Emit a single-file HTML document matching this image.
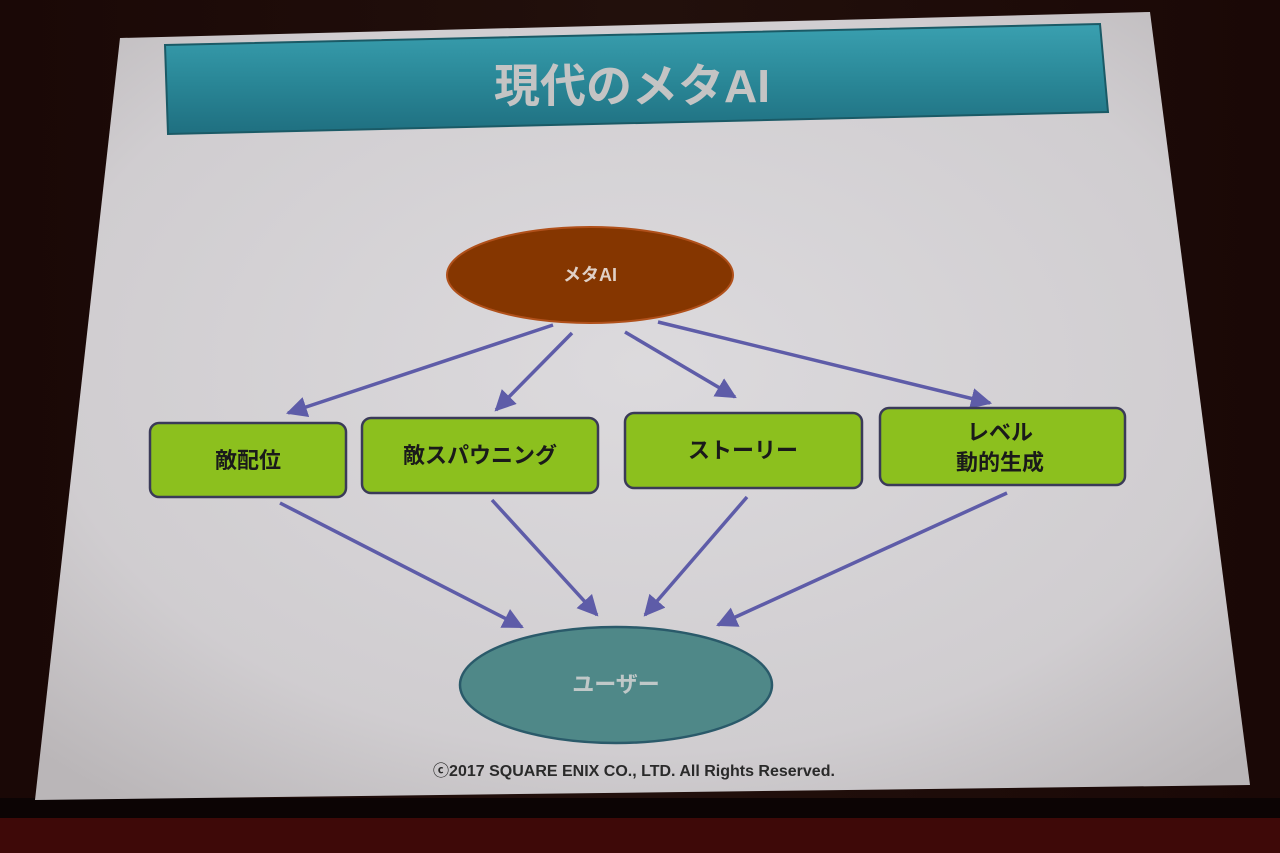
<!DOCTYPE html>
<html><head><meta charset="utf-8"><style>
html,body{margin:0;padding:0;background:#140806;}
svg{display:block}
text{font-family:"Liberation Sans","Noto Sans CJK JP",sans-serif;}
</style></head><body>
<svg width="1280" height="853" viewBox="0 0 1280 853" xmlns="http://www.w3.org/2000/svg">
<defs>
<linearGradient id="bg" x1="0" y1="0" x2="1" y2="0">
<stop offset="0" stop-color="#1a0806"/><stop offset="0.5" stop-color="#22100c"/><stop offset="1" stop-color="#1a0806"/></linearGradient>
<radialGradient id="scr" cx="0.5" cy="0.45" r="0.7">
<stop offset="0" stop-color="#dcdadd"/><stop offset="0.7" stop-color="#d0cdd0"/><stop offset="1" stop-color="#bab6b8"/></radialGradient>
<linearGradient id="title" x1="0" y1="0" x2="0" y2="1">
<stop offset="0" stop-color="#3aa0b0"/><stop offset="0.5" stop-color="#2a8898"/><stop offset="1" stop-color="#1f6f80"/></linearGradient>
<marker id="ah" viewBox="0 0 10 10" refX="9" refY="5" markerWidth="6" markerHeight="6" orient="auto"><path d="M0,0 L10,5 L0,10 z" fill="#5e5ca8"/></marker>
</defs>
<rect width="1280" height="853" fill="url(#bg)"/>
<rect y="815" width="1280" height="38" fill="#3e0908"/>
<rect y="798" width="1280" height="20" fill="#0c0404"/>
<polygon points="120,38 1150,12 1250,785 35,800" fill="url(#scr)"/>
<polygon points="165,45 1100,24 1108,112 168,134" fill="url(#title)" stroke="#1a5a66" stroke-width="2"/>
<text x="632" y="102" font-size="46" font-weight="bold" fill="#c4c4c4" text-anchor="middle">現代のメタAI</text>
<g stroke="#5e5ca8" stroke-width="3.5" marker-end="url(#ah)">
<line x1="553" y1="325" x2="288" y2="413"/>
<line x1="572" y1="333" x2="496" y2="410"/>
<line x1="625" y1="332" x2="735" y2="397"/>
<line x1="658" y1="322" x2="990" y2="403"/>
<line x1="280" y1="503" x2="522" y2="627"/>
<line x1="492" y1="500" x2="597" y2="615"/>
<line x1="747" y1="497" x2="645" y2="615"/>
<line x1="1007" y1="493" x2="718" y2="625"/>
</g>
<ellipse cx="590" cy="275" rx="143" ry="48" fill="#853600" stroke="#b0501a" stroke-width="2"/>
<text x="590" y="281" font-size="18" font-weight="bold" fill="#e0d0c6" text-anchor="middle">メタAI</text>
<g fill="#8cc01e" stroke="#3a3a58" stroke-width="2.5">
<rect x="150" y="423" width="196" height="74" rx="9"/>
<rect x="362" y="418" width="236" height="75" rx="9"/>
<rect x="625" y="413" width="237" height="75" rx="9"/>
<rect x="880" y="408" width="245" height="77" rx="9"/>
</g>
<g font-size="22" font-weight="bold" fill="#1a1a1a" text-anchor="middle">
<text x="248" y="468">敵配位</text>
<text x="480" y="463">敵スパウニング</text>
<text x="743" y="458">ストーリー</text>
<text x="1000" y="440">レベル</text>
<text x="1000" y="470">動的生成</text>
</g>
<ellipse cx="616" cy="685" rx="156" ry="58" fill="#4f8888" stroke="#2a5a6a" stroke-width="2.5"/>
<text x="616" y="692" font-size="22" font-weight="bold" fill="#c0c8c8" text-anchor="middle">ユーザー</text>
<text x="634" y="776" font-size="16" font-weight="bold" fill="#2a2a2a" text-anchor="middle">ⓒ2017 SQUARE ENIX CO., LTD. All Rights Reserved.</text>
</svg>
</body></html>
